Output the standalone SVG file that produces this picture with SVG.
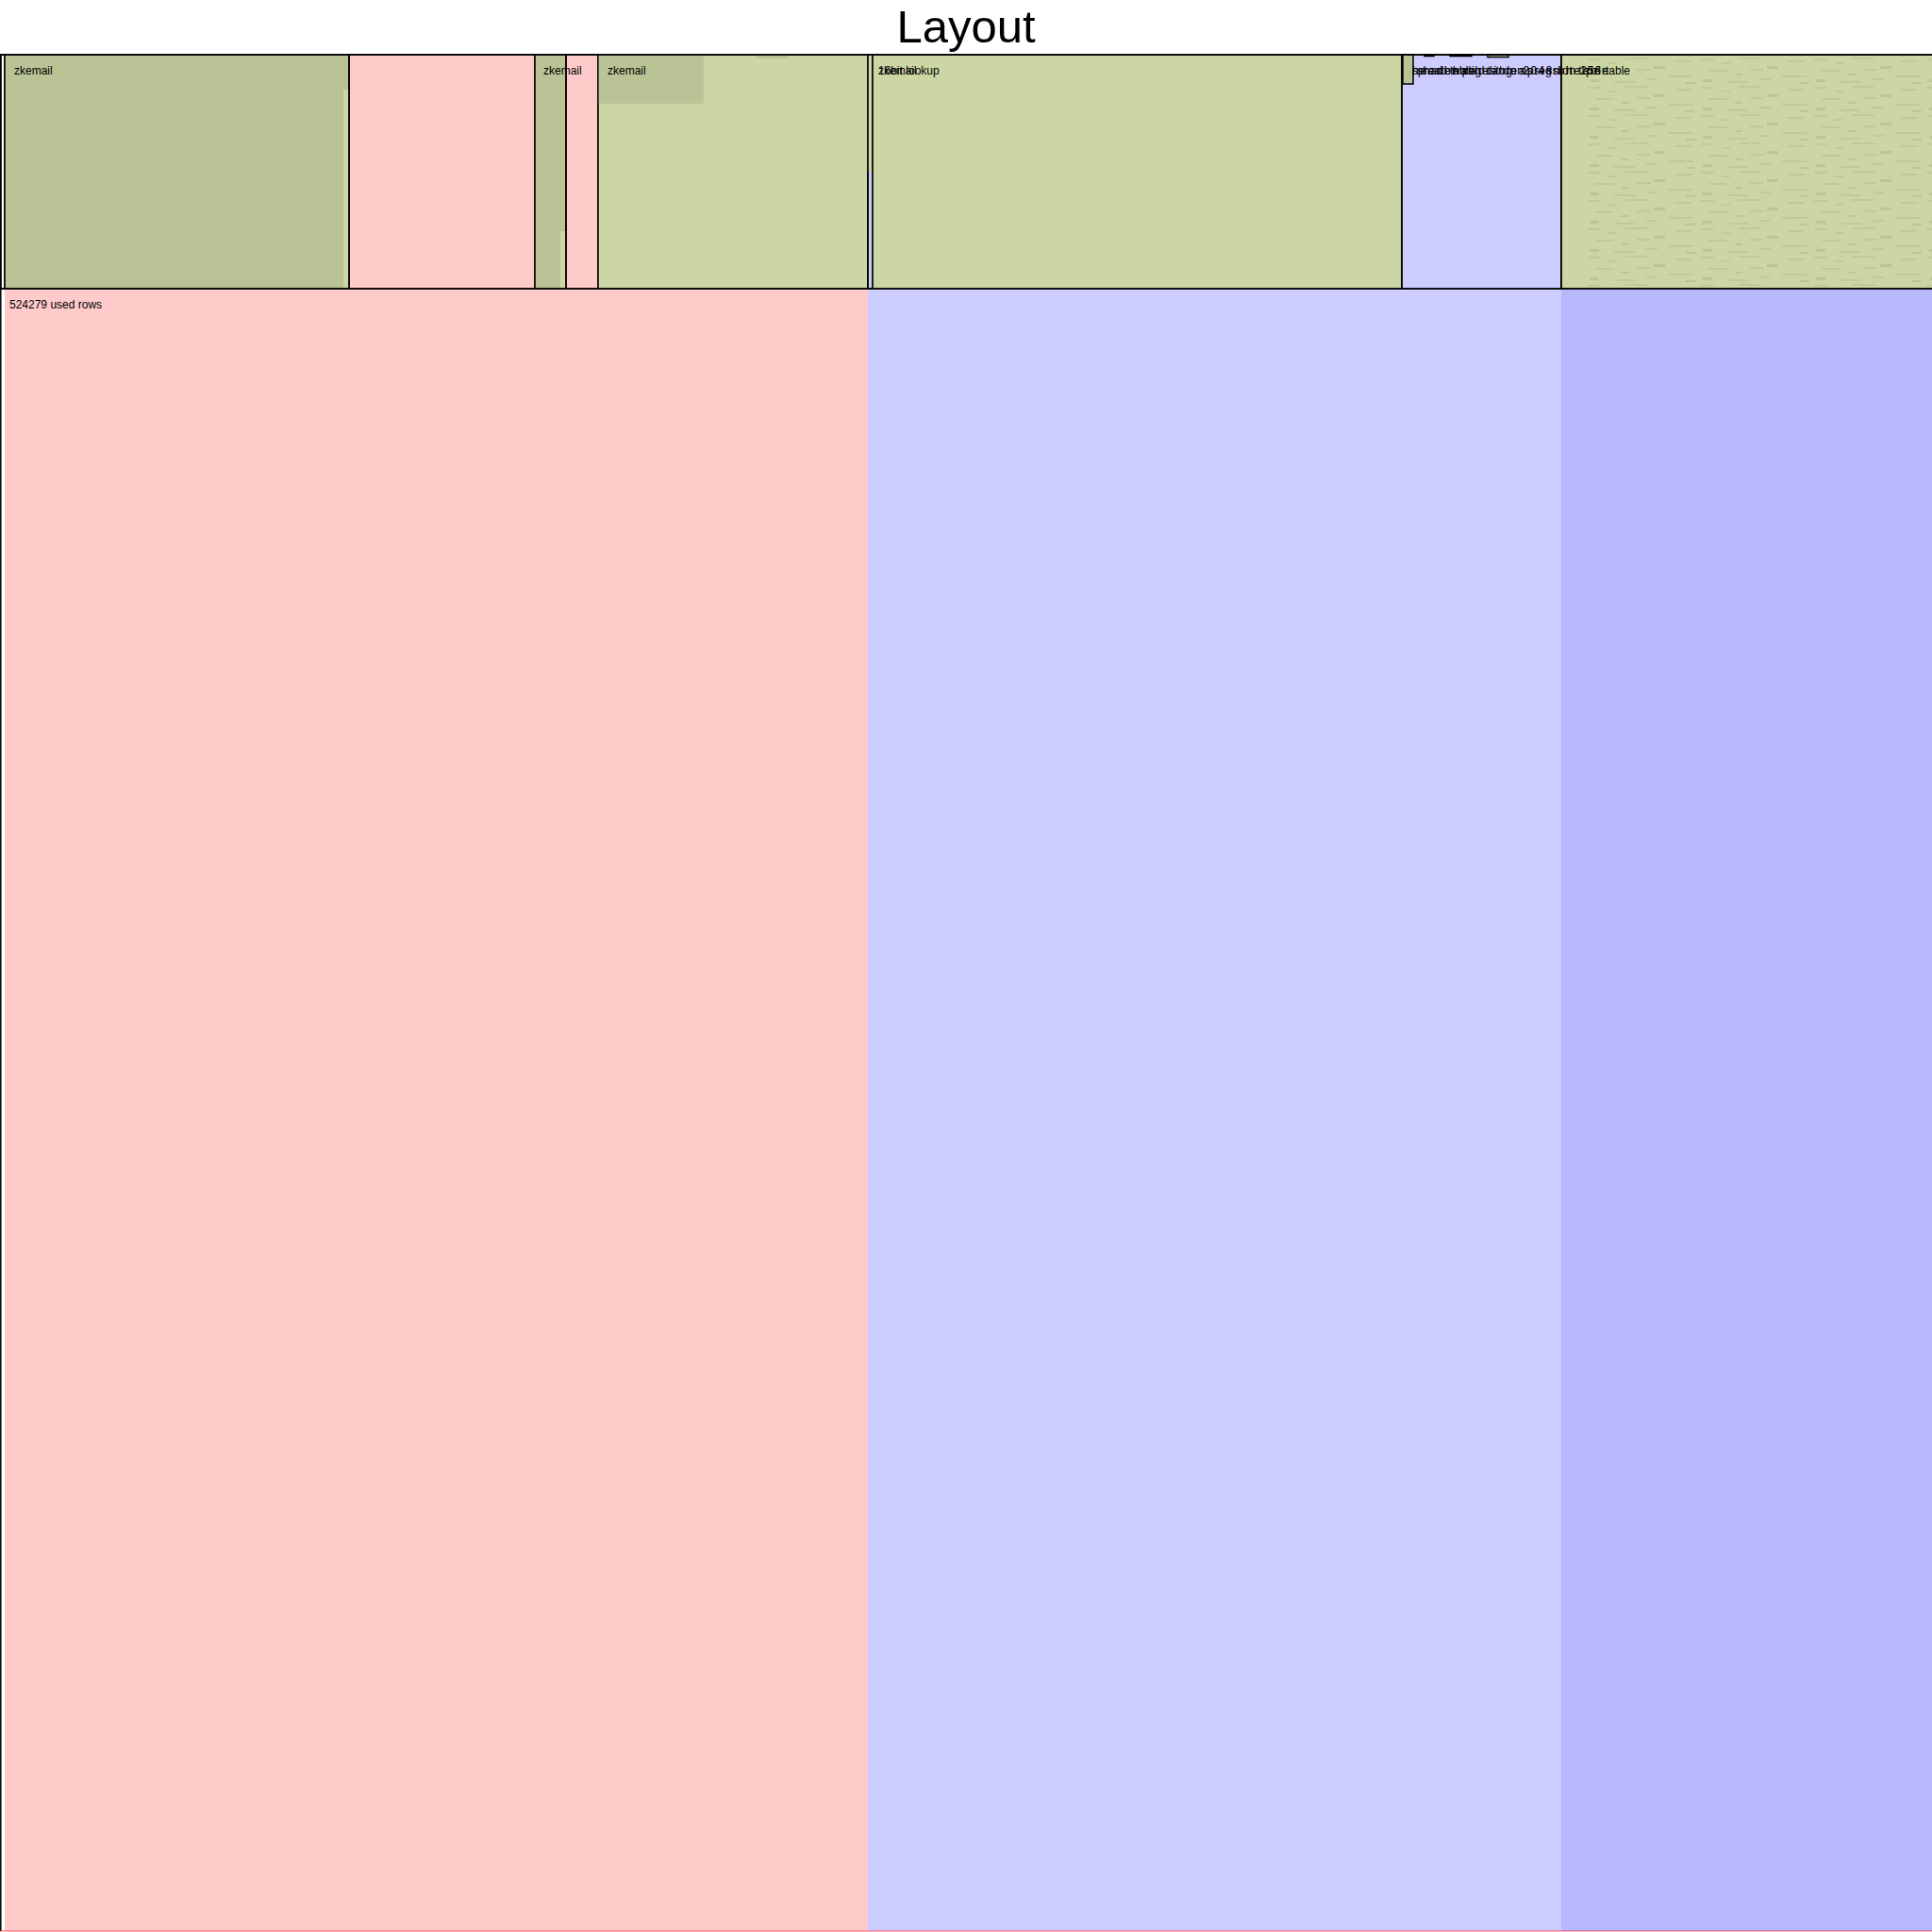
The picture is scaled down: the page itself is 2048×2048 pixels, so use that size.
<svg xmlns="http://www.w3.org/2000/svg" width="2048" height="2048" viewBox="0 0 2048 2048">
<style>
.lbl{font-family:"Liberation Sans",Arial,sans-serif;font-size:12px;fill:#000}
.title{font-family:"Liberation Sans",Arial,sans-serif;font-size:49px;fill:#000}
.box{stroke:#000;stroke-width:1.5}
.dg{fill:#b9c395}
.lg{fill:#ccd6a4}
</style>
<defs>
<pattern id="tex" x="1683" y="60" width="120" height="30" patternUnits="userSpaceOnUse">
<rect x="0" y="2" width="14" height="2" fill="#c0c997"/>
<rect x="22" y="6" width="9" height="2" fill="#c0c997"/>
<rect x="40" y="1" width="24" height="2" fill="#c0c997"/>
<rect x="70" y="10" width="12" height="3" fill="#bcc594"/>
<rect x="92" y="4" width="18" height="2" fill="#c0c997"/>
<rect x="8" y="14" width="20" height="2" fill="#c0c997"/>
<rect x="36" y="18" width="8" height="2" fill="#bcc594"/>
<rect x="52" y="13" width="15" height="2" fill="#c0c997"/>
<rect x="86" y="20" width="26" height="2" fill="#c0c997"/>
<rect x="2" y="24" width="10" height="3" fill="#bcc594"/>
<rect x="28" y="26" width="22" height="2" fill="#c0c997"/>
<rect x="62" y="23" width="12" height="2" fill="#c0c997"/>
<rect x="104" y="27" width="10" height="2" fill="#bcc594"/>
</pattern>
</defs>
<rect width="2048" height="2048" fill="#fff"/>
<text class="title" x="1024" y="45" text-anchor="middle">Layout</text>

<g id="columns">
<rect x="5" y="58" width="915" height="1989" fill="#fecaca"/>
<rect x="920" y="58" width="735" height="1989" fill="#ccccfe"/>
<rect x="1655" y="58" width="393" height="1989" fill="#b8b8fe"/>
</g>

<g id="region-zkemail-1">
<rect class="box" x="0.8" y="58" width="4.2" height="248" fill="none"/>
<rect class="box dg" x="5" y="58" width="365" height="248"/>
<rect class="lg" x="364" y="95" width="5.3" height="210"/>
<text class="lbl" x="15" y="79">zkemail</text>
</g>
<g id="region-2">
<rect class="box" x="370" y="58" width="197" height="248" fill="none"/>
</g>
<g id="region-zkemail-2">
<rect class="box dg" x="567" y="58" width="33" height="248"/>
<rect class="lg" x="594" y="245" width="5.3" height="60"/>
<text class="lbl" x="576" y="79">zkemail</text>
</g>
<g id="region-4">
<rect class="box" x="600" y="58" width="34" height="248" fill="none"/>
</g>
<g id="region-zkemail-3">
<rect class="box lg" x="634" y="58" width="286" height="248"/>
<rect class="dg" x="634.8" y="58.8" width="111" height="51"/>
<rect class="dg" x="802" y="58.8" width="34" height="3"/>
<text class="lbl" x="644" y="79">zkemail</text>
</g>
<g id="region-6">
<rect class="lg" x="920" y="58" width="5" height="124"/>
<rect class="box" x="920" y="58" width="5" height="248" fill="none"/>
</g>
<g id="region-lookup">
<rect class="box lg" x="925" y="58" width="561" height="248"/>
<text class="lbl" x="931" y="79">zkemail</text>
<text class="lbl" x="931" y="79">16bit lookup</text>
</g>
<g id="region-table">
<rect class="box lg" x="1655" y="58" width="394" height="248"/>
<rect x="1683" y="60" width="365" height="244" fill="url(#tex)"/>
</g>
<g id="region-spread">
<rect class="box" x="1486" y="58" width="169" height="248" fill="none"/>
<rect class="box dg" x="1487" y="58" width="11" height="31"/>
<rect class="box" x="1510" y="58" width="10" height="1.5" fill="none"/>
<rect class="box" x="1537" y="58" width="23" height="1.5" fill="none"/>
<rect class="box lg" x="1577" y="58" width="22" height="2.5"/>
<text class="lbl" x="1497" y="79">spread table</text>
<text class="lbl" x="1497" y="79" textLength="205">header padding assign helper</text>
<text class="lbl" x="1502" y="79" textLength="195">shadow digest compression 256</text>
<text class="lbl" x="1540" y="79" textLength="165">hash table 2048 bit table</text>
<text class="lbl" x="1702" y="79">table</text>
</g>

<g id="frame">
<line x1="0" y1="58" x2="2048" y2="58" stroke="#000" stroke-width="1.5"/>
<line x1="0" y1="306" x2="2048" y2="306" stroke="#000" stroke-width="1.5"/>
<line x1="0.8" y1="58" x2="0.8" y2="2047" stroke="#000" stroke-width="1.5"/>
<line x1="0" y1="2047" x2="2048" y2="2047" stroke="#f00" stroke-opacity="0.4" stroke-width="1.5"/>
</g>
<text class="lbl" x="10" y="327">524279 used rows</text>
</svg>
